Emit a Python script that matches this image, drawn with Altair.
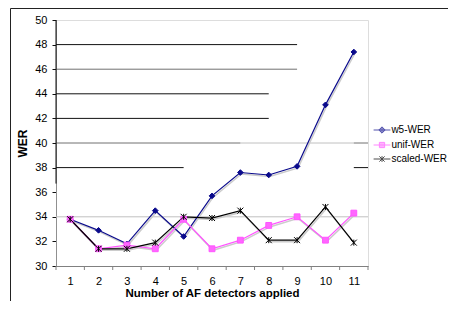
import altair as alt
import pandas as pd

# ---- data ----
x_vals = list(range(1, 12))
w5_wer = [33.8, 32.9, 31.8, 34.5, 32.4, 35.7, 37.6, 37.4, 38.1, 43.1, 47.4]
unif_wer = [33.8, 31.4, 31.7, 31.4, 33.8, 31.4, 32.1, 33.3, 34.0, 32.1, 34.3]
scaled_wer = [33.8, 31.4, 31.4, 31.9, 34.0, 33.9, 34.5, 32.1, 32.1, 34.8, 31.9]
series_names = ["w5-WER", "unif-WER", "scaled-WER"]
y_ticks = list(range(30, 51, 2))
x_tick_bounds = [i + 0.5 for i in range(0, 12)]

# gridline segments as they appear in the picture (value, from, to, tone)
grid_y = [48, 46, 44, 42, 40, 40, 40, 38, 38, 34]
grid_x0 = [0.5, 0.5, 0.5, 0.5, 0.5, 7, 11, 0.5, 11, 0.5]
grid_x1 = [9, 9, 8, 8, 7, 11, 11.5, 5, 11.5, 11.5]
grid_tone = ["dark", "mid", "dark", "dark", "mid", "light", "mid", "dark", "dark", "light"]
axis_dark_from, axis_dark_to = 50, 36.7

rows = []
for name, vals in zip(series_names, [w5_wer, unif_wer, scaled_wer]):
    for x, v in zip(x_vals, vals):
        rows.append({"x": x, "wer": v, "series": name})
df = pd.DataFrame(rows)

grid_df = pd.DataFrame({"y": grid_y, "x0": grid_x0, "x1": grid_x1, "tone": grid_tone})
axis_df = pd.DataFrame({"x": [0.5], "y0": [axis_dark_from], "y1": [axis_dark_to]})
tick_df = pd.DataFrame({"x": x_tick_bounds, "y": [30] * len(x_tick_bounds)})
frame_df = pd.DataFrame({"k": [0]})

W, H = 312, 246
FONT = "Liberation Sans"
xscale = alt.Scale(domain=[0.5, 11.5], nice=False, zero=False)
yscale = alt.Scale(domain=[30, 50], nice=False, zero=False)

X_AX = alt.Axis(
    values=x_vals, ticks=False, tickSize=0, grid=False,
    domainColor="#808080", labelFont=FONT, labelFontSize=11, labelColor="#000",
    labelPadding=9, title="Number of AF detectors applied",
    titleFont=FONT, titleFontSize=11.5, titleFontWeight="bold", titleColor="#000",
    titlePadding=1,
)
Y_AX = alt.Axis(
    values=y_ticks, tickSize=4, tickColor="#111", grid=False,
    domainColor="#909090", labelFont=FONT, labelFontSize=11, labelColor="#000",
    labelPadding=5, title="WER", titleFont=FONT, titleFontSize=12,
    titleFontWeight="bold", titleColor="#000", titlePadding=5,
)

line_colors = ["#0a0a8c", "#ff55ff", "#000000"]
fill_colors = ["#0a0a8c", "#ff66ff", "transparent"]

tone_colors = {"dark": "#111111", "mid": "#707070", "light": "#c0c0c0"}
grid_layers = []
for tone in ["light", "mid", "dark"]:
    grid_layers.append(
        alt.Chart(grid_df).transform_filter(alt.datum.tone == tone)
        .mark_rule(color=tone_colors[tone], strokeWidth=1)
        .encode(
            x=alt.X("x0:Q", scale=xscale, axis=X_AX),
            x2="x1:Q",
            y=alt.Y("y:Q", scale=yscale, axis=Y_AX),
        )
    )

axis_overlay = alt.Chart(axis_df).mark_rule(color="#111111", strokeWidth=1).encode(
    x=alt.X("x:Q", scale=xscale, axis=X_AX),
    y=alt.Y("y0:Q", scale=yscale, axis=Y_AX),
    y2="y1:Q",
)

x_ticks = alt.Chart(tick_df).mark_rule(color="#808080", strokeWidth=1).encode(
    x=alt.X("x:Q", scale=xscale, axis=X_AX),
    y=alt.Y("y:Q", scale=yscale, axis=Y_AX),
    y2=alt.value(H + 4),
)

frame_left = alt.Chart(frame_df).mark_rule(color="#222222", strokeWidth=1).encode(
    x=alt.value(-45.5), y=alt.value(-11.5), y2=alt.value(H + 50)
)
frame_top = alt.Chart(frame_df).mark_rule(color="#222222", strokeWidth=1).encode(
    x=alt.value(-45.5), x2=alt.value(W + 100), y=alt.value(-11.5)
)

shadow = alt.Chart(df).mark_line(color="#cccccc", strokeWidth=1.5, xOffset=1, yOffset=1.5).encode(
    x=alt.X("x:Q", scale=xscale, axis=X_AX),
    y=alt.Y("wer:Q", scale=yscale, axis=Y_AX),
    detail="series:N",
)

lines = alt.Chart(df).mark_line(strokeWidth=1.2).encode(
    x=alt.X("x:Q", scale=xscale, axis=X_AX),
    y=alt.Y("wer:Q", scale=yscale, axis=Y_AX),
    color=alt.Color("series:N", scale=alt.Scale(domain=series_names, range=line_colors), legend=None),
)

marker_shapes = ["diamond", "square", "M-1,-1L1,1M-1,1L1,-1M0,-1L0,1"]
points = alt.Chart(df).mark_point(filled=False, strokeWidth=1, opacity=1).encode(
    x=alt.X("x:Q", scale=xscale, axis=X_AX),
    y=alt.Y("wer:Q", scale=yscale, axis=Y_AX),
    color=alt.Color("series:N", scale=alt.Scale(domain=series_names, range=line_colors), legend=None),
    fill=alt.Fill("series:N", scale=alt.Scale(domain=series_names, range=fill_colors), legend=None),
    shape=alt.Shape("series:N", scale=alt.Scale(domain=series_names, range=marker_shapes), legend=None),
    size=alt.Size("series:N", scale=alt.Scale(domain=series_names, range=[32, 36, 25]), legend=None),
)

legend_shapes = [
    "M-1.6,0L1.6,0M0,-0.6L0.6,0L0,0.6L-0.6,0Z",
    "M-1.6,0L1.6,0M-0.5,-0.5L0.5,-0.5L0.5,0.5L-0.5,0.5Z",
    "M-1.6,0L1.6,0M-0.5,-0.5L0.5,0.5M-0.5,0.5L0.5,-0.5M0,-0.55L0,0.55",
]
leg = alt.Legend(
    title=None, orient="none", legendX=320, legendY=104, padding=0,
    labelFont=FONT, labelFontSize=10, labelColor="#000", labelOffset=3.4,
    symbolSize=110, symbolStrokeWidth=1, rowPadding=3,
)
legend_layer = alt.Chart(df).transform_filter("datum.x < 0").mark_point(filled=False, strokeWidth=1, size=110).encode(
    x=alt.X("x:Q", scale=xscale, axis=X_AX),
    y=alt.Y("wer:Q", scale=yscale, axis=Y_AX),
    color=alt.Color("series:N", scale=alt.Scale(domain=series_names, range=line_colors), legend=leg),
    fill=alt.Fill("series:N", scale=alt.Scale(domain=series_names, range=fill_colors), legend=leg),
    shape=alt.Shape("series:N", scale=alt.Scale(domain=series_names, range=legend_shapes), legend=leg),
)

chart = alt.layer(
    *grid_layers, axis_overlay, x_ticks, frame_left, frame_top, shadow, lines, points, legend_layer
).resolve_scale(
    color="independent", fill="independent", shape="independent"
).properties(
    width=W, height=H,
    autosize=alt.AutoSizeParams(type="none"),
    padding={"left": 48, "top": 12, "right": 80, "bottom": 35},
).configure_view(
    stroke="#909090", strokeWidth=1
).configure(background="white")

chart.save("out.html", embed_options={"renderer": "svg", "actions": False})
